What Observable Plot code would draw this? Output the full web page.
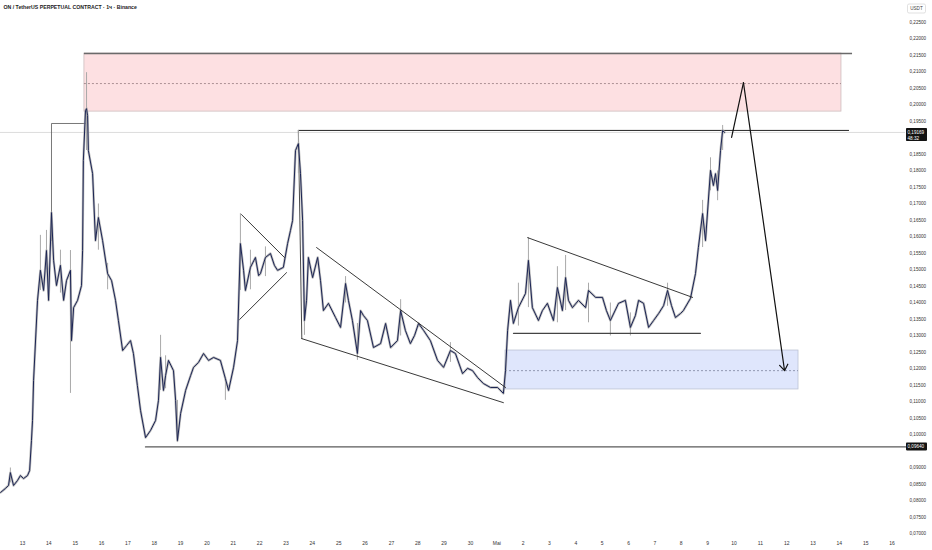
<!DOCTYPE html>
<html><head><meta charset="utf-8">
<script src="https://cdn.jsdelivr.net/npm/d3@7"></script>
<script src="https://cdn.jsdelivr.net/npm/@observablehq/plot@0.6"></script>
<style>body{margin:0;background:#fff;}</style>
</head><body><div id="chart"></div>
<script>
// time: days since 13 April (00:00); price in USDT
const dayOffset = [-0.83,-0.65,-0.53,-0.46,-0.34,-0.19,-0.08,0.04,0.19,0.27,0.34,0.38,0.42,0.57,0.68,0.80,0.91,0.99,1.10,1.18,1.29,1.44,1.56,1.67,1.82,1.86,1.94,2.09,2.24,2.28,2.31,2.39,2.43,2.47,2.50,2.66,2.77,2.88,3.04,3.23,3.38,3.53,3.64,3.80,3.95,4.10,4.21,4.36,4.48,4.67,4.86,5.05,5.16,5.24,5.35,5.43,5.54,5.73,5.81,5.88,6.00,6.19,6.38,6.49,6.68,6.87,7.06,7.25,7.51,7.70,7.82,8.01,8.16,8.27,8.39,8.46,8.65,8.84,8.96,9.03,9.22,9.41,9.56,9.68,9.90,10.06,10.17,10.25,10.36,10.47,10.55,10.63,10.70,10.78,10.85,11.01,11.20,11.31,11.42,11.61,11.88,12.07,12.26,12.37,12.52,12.71,12.83,12.94,13.09,13.32,13.59,13.78,13.97,14.23,14.35,14.53,14.72,14.88,15.03,15.22,15.48,15.75,15.98,16.24,16.43,16.70,16.89,17.08,17.27,17.49,17.76,18.03,18.25,18.33,18.41,18.52,18.63,18.82,19.09,19.20,19.35,19.58,19.73,19.92,20.15,20.30,20.49,20.61,20.72,20.87,21.10,21.37,21.48,21.75,22.01,22.16,22.31,22.62,22.88,23.07,23.26,23.38,23.57,23.76,23.95,24.14,24.33,24.48,24.63,24.78,24.97,25.08,25.35,25.54,25.65,25.81,25.92,26.11,26.22,26.30,26.38,26.49,26.57,26.64];
const closePrice = [0.0826,0.0838,0.0847,0.0886,0.0847,0.0862,0.0877,0.0868,0.0877,0.0892,0.0983,0.1044,0.1165,0.1408,0.1499,0.1438,0.1559,0.1408,0.1674,0.1529,0.1453,0.1514,0.1408,0.1468,0.1499,0.1286,0.1386,0.1408,0.1453,0.1559,0.1832,0.1983,0.1989,0.1968,0.1862,0.1792,0.1589,0.1659,0.1589,0.1489,0.1468,0.1408,0.1347,0.1256,0.1271,0.1286,0.1247,0.1150,0.1074,0.0992,0.1014,0.1044,0.1105,0.1235,0.1135,0.1180,0.1226,0.1195,0.1105,0.0983,0.1065,0.1135,0.1180,0.1205,0.1220,0.1247,0.1226,0.1235,0.1226,0.1171,0.1135,0.1205,0.1286,0.1580,0.1499,0.1438,0.1508,0.1538,0.1483,0.1489,0.1538,0.1550,0.1514,0.1499,0.1508,0.1580,0.1620,0.1650,0.1862,0.1883,0.1792,0.1650,0.1347,0.1408,0.1538,0.1477,0.1538,0.1468,0.1377,0.1399,0.1356,0.1326,0.1459,0.1408,0.1347,0.1247,0.1377,0.1362,0.1347,0.1265,0.1277,0.1338,0.1265,0.1286,0.1377,0.1317,0.1277,0.1302,0.1338,0.1317,0.1286,0.1226,0.1205,0.1256,0.1247,0.1186,0.1202,0.1195,0.1174,0.1156,0.1144,0.1144,0.1126,0.1195,0.1317,0.1408,0.1338,0.1386,0.1429,0.1529,0.1386,0.1347,0.1377,0.1399,0.1347,0.1447,0.1377,0.1477,0.1408,0.1386,0.1408,0.1386,0.1438,0.1417,0.1417,0.1377,0.1347,0.1399,0.1408,0.1326,0.1362,0.1408,0.1399,0.1326,0.1347,0.1368,0.1392,0.1438,0.1392,0.1356,0.1368,0.1377,0.1414,0.1489,0.1568,0.1671,0.1589,0.1802,0.1756,0.1792,0.1741,0.1862,0.1923,0.19169];

// notable wicks (day, high, low)
const wickDay  = [-0.46,0.68,0.91,1.44,1.82,2.43,2.88,3.23,5.24,5.43,5.88,7.70,8.27,8.65,9.22,10.47,10.70,12.26,12.71,14.35,16.24,18.82,19.20,20.30,20.61,21.48,22.31,23.07,24.48,25.81,26.11,26.38,26.57];
const wickHigh = [0.0900,0.1605,0.1620,0.1560,0.1559,0.2098,0.1700,0.1520,0.1302,0.1240,0.1105,0.1171,0.1671,0.1560,0.1570,0.1923,0.1408,0.1480,0.1338,0.1410,0.1280,0.1460,0.1598,0.1510,0.1544,0.1460,0.1400,0.1370,0.1460,0.1711,0.1840,0.1800,0.1938];
const wickLow  = [0.0855,0.1438,0.1500,0.1430,0.1126,0.1862,0.1560,0.1440,0.1135,0.1140,0.0977,0.1105,0.1438,0.1440,0.1480,0.1792,0.1302,0.1400,0.1226,0.1300,0.1220,0.1330,0.1386,0.1340,0.1377,0.1340,0.1300,0.1300,0.1390,0.1568,0.1740,0.1710,0.1862];

// axis labels (0,19000 and 0,09500 are hidden behind the price tags in the reference)
const dayTicks = d3.range(0, 34);
const dayLabels = ["13","14","15","16","17","18","19","20","21","22","23","24","25","26","27","28","29","30","Mai","2","3","4","5","6","7","8","9","10","11","12","13","14","15","16"];
const priceTicks = d3.range(0, 32).map(i => +(0.07 + i * 0.005).toFixed(3)).filter(v => v !== 0.19 && v !== 0.095);

// zones [start, end, low, high, mid]
const supplyZone = [2.35, 31.08, 0.1980, 0.2156, 0.2065];
const supplyTopLineEnd = 31.50;
const demandZone = [18.33, 29.45, 0.1138, 0.1256, 0.1195];

// drawn lines: each a list of [day, price]
const earlyLevel = [[1.10,0.1589],[1.10,0.1944],[2.39,0.1944]];
const resistance = [[10.47,0.1923],[31.35,0.1923]];
const boxEdge = [[10.47,0.1923],[10.60,0.1292]];
const triUpper = [[8.31,0.1668],[9.94,0.1538]];
const triLower = [[8.24,0.1350],[10.02,0.1492]];
const wedgeUpper = [[11.16,0.1568],[18.33,0.1144]];
const wedgeLower = [[10.60,0.1292],[18.25,0.1098]];
const rangeUpper = [[19.17,0.1598],[25.43,0.1417]];
const rangeSupport = [[18.63,0.1308],[25.73,0.1308]];
const supportLevel = [[4.67,0.0964],[33.51,0.0964]];
const projUp = [[26.91,0.1902],[27.36,0.2068]];
const projDown = [[27.36,0.2068],[28.92,0.1195]];

const lastPrice = 0.19169;
const supportPrice = 0.09640;
const countdown = "48:32";
const title = "ON / TetherUS PERPETUAL CONTRACT · 1ч · Binance";

const fmt = v => d3.format(".5f")(v).replace(".", ",");
const series = dayOffset.map((d, i) => ({d, p: closePrice[i]}));
const wicks = wickDay.map((d, i) => ({d, hi: wickHigh[i], lo: wickLow[i]}));
const seg = (pts, o) => Plot.line(pts, {x: d => d[0], y: d => d[1], ...o});

const plot = Plot.plot({
  width: 932, height: 550,
  marginLeft: 0, marginRight: 27, marginTop: 0, marginBottom: 14,
  style: {fontFamily: "'Liberation Sans', Arial, sans-serif", color: "#333", background: "#fff"},
  x: {type: "linear", domain: [-0.835, 33.51], axis: null, label: null},
  y: {domain: [0.06924, 0.23167], axis: null, label: null},
  marks: [
    Plot.rect([supplyZone], {x1: z => z[0], x2: z => z[1], y1: z => z[2], y2: z => z[3], fill: "#fde0e2", stroke: "#cdbdbf", strokeWidth: 0.8}),
    Plot.ruleY([supplyZone], {y: z => z[4], x1: z => z[0], x2: z => z[1], stroke: "#8a6f72", strokeWidth: 0.7, strokeDasharray: "2,2"}),
    Plot.ruleY([supplyZone], {y: z => z[3], x1: z => z[0], x2: () => supplyTopLineEnd, stroke: "#6a6a6a", strokeWidth: 1.4}),
    Plot.rect([demandZone], {x1: z => z[0], x2: z => z[1], y1: z => z[2], y2: z => z[3], fill: "#dfe6fc", stroke: "#bcc2d4", strokeWidth: 0.8}),
    Plot.ruleY([demandZone], {y: z => z[4], x1: z => z[0], x2: z => z[1], stroke: "#6f7690", strokeWidth: 0.7, strokeDasharray: "2,2"}),
    Plot.ruleY([lastPrice], {stroke: "#d2d2d2", strokeWidth: 0.8}),
    seg(resistance, {stroke: "#222", strokeWidth: 1}),
    seg(supportLevel, {stroke: "#5a5a5a", strokeWidth: 1.4}),
    seg(earlyLevel, {stroke: "#555", strokeWidth: 0.8}),
    seg(boxEdge, {stroke: "#333", strokeWidth: 0.9}),
    Plot.ruleX(wicks, {x: "d", y1: "lo", y2: "hi", stroke: "#a9a9a9", strokeWidth: 1}),
    Plot.line(series, {x: "d", y: "p", stroke: "#ababab", strokeWidth: 2.4, strokeOpacity: 0.8}),
    Plot.line(series, {x: "d", y: "p", stroke: "#1b2454", strokeWidth: 1}),
    seg(triUpper, {stroke: "#222", strokeWidth: 0.9}),
    seg(triLower, {stroke: "#222", strokeWidth: 0.9}),
    seg(wedgeUpper, {stroke: "#222", strokeWidth: 0.9}),
    seg(wedgeLower, {stroke: "#222", strokeWidth: 0.9}),
    seg(rangeUpper, {stroke: "#222", strokeWidth: 0.9}),
    seg(rangeSupport, {stroke: "#444", strokeWidth: 1.1}),
    seg(projUp, {stroke: "#111", strokeWidth: 1.2}),
    Plot.arrow([projDown], {x1: d => d[0][0], y1: d => d[0][1], x2: d => d[1][0], y2: d => d[1][1], stroke: "#111", strokeWidth: 1.2, headLength: 9, headAngle: 70}),
    Plot.axisX({ticks: dayTicks, tickFormat: d => dayLabels[d], tickSize: 0, tickPadding: 5, fontSize: 5, fill: "#333", label: null}),
    Plot.axisY({anchor: "right", ticks: priceTicks, tickFormat: fmt, tickSize: 0, tickPadding: 4, fontSize: 4.6, fill: "#333", textAnchor: "start", label: null}),
    Plot.text([title], {frameAnchor: "top-left", dx: 3, dy: 5, fontSize: 5.2, fontWeight: 600, fill: "#222", textAnchor: "start"})
  ]
});
document.getElementById("chart").appendChild(plot);

// price tags on right axis, positioned with the plot's own y scale
const svg = d3.select(plot);
const sy = plot.scale("y");
const FONT = "'Liberation Sans', Arial, sans-serif";
function tag(v, lines) {
  const y = sy.apply(v);
  const h = lines.length > 1 ? 13 : 8;
  const g = svg.append("g").attr("text-anchor", "start");
  g.append("rect").attr("x", 906).attr("y", y - 4).attr("width", 21).attr("height", h).attr("fill", "#131313").attr("rx", 0.8);
  lines.forEach((t, i) => g.append("text").attr("x", 907.5).attr("y", y + 1.6 + i * 6).attr("text-anchor", "start").attr("font-size", 4.6).attr("fill", "#fff").attr("font-family", FONT).text(t));
}
tag(lastPrice, [fmt(lastPrice), countdown]);
tag(supportPrice, [fmt(supportPrice)]);
const u = svg.append("g");
u.append("rect").attr("x", 907.5).attr("y", 4).attr("width", 18).attr("height", 9).attr("fill", "#fff").attr("stroke", "#ccc").attr("stroke-width", 0.6).attr("rx", 1.5);
u.append("text").attr("x", 916.5).attr("y", 10.3).attr("text-anchor", "middle").attr("font-size", 4.6).attr("fill", "#444").attr("font-family", FONT).text("USDT");
</script>
</body></html>
